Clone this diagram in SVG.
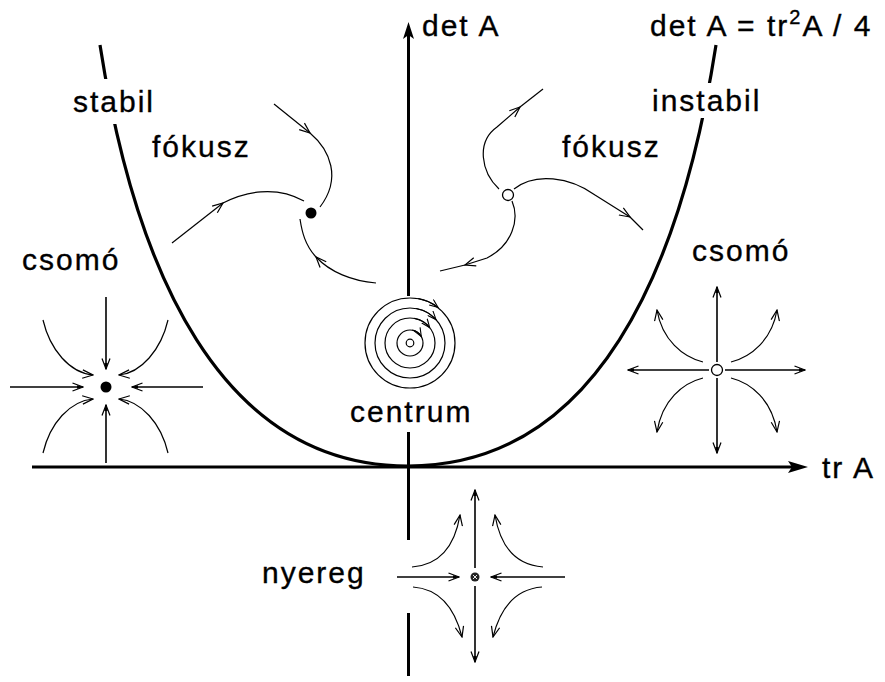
<svg xmlns="http://www.w3.org/2000/svg" width="885" height="682" viewBox="0 0 885 682">
<style>
text{font-family:"Liberation Sans",Arial,sans-serif;font-size:30px;letter-spacing:2px;fill:#000;stroke:#000;stroke-width:0.35}
.ax{stroke:#000;stroke-width:3;fill:none}
.par{stroke:#000;stroke-width:3.2;fill:none}
.s{stroke:#000;stroke-width:1.6;fill:none}
.c{stroke:#000;stroke-width:1.2;fill:none}
</style>
<defs>
<marker id="v" viewBox="0 0 12 10" refX="11" refY="5" markerWidth="12" markerHeight="10" markerUnits="userSpaceOnUse" orient="auto"><path d="M0.5,0.8 L11,5 L0.5,9.2" fill="none" stroke="#000" stroke-width="1.2"/></marker>
<marker id="fv" viewBox="0 0 12 10" refX="11" refY="5" markerWidth="12" markerHeight="10" markerUnits="userSpaceOnUse" orient="auto"><path d="M0.5,1 L11,5 L0.5,9" fill="none" stroke="#000" stroke-width="1.2"/><path d="M5,3.2 L11,5 L5,6.8Z" fill="#000"/></marker>
<marker id="sv" viewBox="0 0 10 8" refX="9" refY="4" markerWidth="10" markerHeight="8" markerUnits="userSpaceOnUse" orient="auto"><path d="M0.5,0.5 L9,4 L0.5,7.5" fill="none" stroke="#000" stroke-width="1.1"/></marker>
</defs>

<g id="connectors">
  <g id="axes">
    <path class="ax" d="M32,467 L795,467"/>
    <path d="M808,467 L788,461 L792,467 L788,473 Z" fill="#000"/>
    <path class="ax" d="M408.5,34 L408.5,296"/>
    <path d="M408.5,22 L403,39 L408.5,35 L414,39 Z" fill="#000"/>
    <path class="ax" d="M408.5,432 L408.5,540"/>
    <path class="ax" d="M408.5,613 L408.5,676"/>
  </g>
  <g id="parabola">
    <path class="par" d="M100,45 C 135,270 220,466 408,466 C 596,466 681,270 716,45"/>
    <rect x="92" y="79" width="34" height="45" fill="#fff"/>
    <rect x="688" y="83" width="32" height="35" fill="#fff"/>
  </g>
</g>

<g id="labels">
  <text x="422" y="36">det A</text>
  <text x="650" y="36">det A = tr<tspan dy="-12" font-size="20">2</tspan><tspan dy="12">A / 4</tspan></text>
  <text x="73" y="112">stabil</text>
  <text x="652" y="111">instabil</text>
  <text x="152" y="157">fókusz</text>
  <text x="562" y="157">fókusz</text>
  <text x="22" y="270">csomó</text>
  <text x="692" y="261">csomó</text>
  <text x="350" y="422">centrum</text>
  <text x="262" y="583">nyereg</text>
  <text x="822" y="478">tr A</text>
</g>

<g id="stable-focus">
  <circle cx="311" cy="213" r="5.5" fill="#000"/>
  <path class="c" d="M172,243 L223,203" marker-end="url(#v)"/>
  <path class="c" d="M223,203 C 245,192 275,185 304,201"/>
  <path class="c" d="M274,104 L310,133" marker-end="url(#v)"/>
  <path class="c" d="M310,133 C 330,150 342,178 320,207"/>
  <path class="c" d="M376,283 C 352,281 330,272 316,257" marker-end="url(#v)"/>
  <path class="c" d="M316,257 C 305,245 302,232 300,219"/>
</g>

<g id="unstable-focus">
  <circle cx="508" cy="195" r="5.5" fill="#fff" stroke="#000" stroke-width="1.3"/>
  <path class="c" d="M499,189 C 481,172 476,142 497,127 L520,107" marker-end="url(#v)"/>
  <path class="c" d="M520,107 L543,89"/>
  <path class="c" d="M514,189 C 535,172 570,177 595,195 L630,217" marker-end="url(#v)"/>
  <path class="c" d="M630,217 L643,230"/>
  <path class="c" d="M512,201 C 520,220 512,245 487,258 L465,265" marker-end="url(#v)"/>
  <path class="c" d="M465,265 L440,271"/>
</g>

<g id="stable-node">
  <circle cx="106" cy="387" r="5.5" fill="#000"/>
  <path class="s" d="M10,387 L83,387" marker-end="url(#fv)"/>
  <path class="s" d="M203,387 L132,387" marker-end="url(#fv)"/>
  <path class="s" d="M106,297 L106,369" marker-end="url(#fv)"/>
  <path class="s" d="M106,463 L106,405" marker-end="url(#fv)"/>
  <path class="c" d="M43,320 C 50,350 70,373 93,375" marker-end="url(#v)"/>
  <path class="c" d="M168,320 C 161,350 141,373 119,375" marker-end="url(#v)"/>
  <path class="c" d="M43,453 C 50,423 70,401 93,399" marker-end="url(#v)"/>
  <path class="c" d="M168,453 C 161,423 141,401 119,399" marker-end="url(#v)"/>
</g>

<g id="unstable-node">
  <circle cx="717" cy="370" r="5.5" fill="#fff" stroke="#000" stroke-width="1.3"/>
  <path class="s" d="M709,370 L628,370" marker-end="url(#fv)"/>
  <path class="s" d="M725,370 L805,370" marker-end="url(#fv)"/>
  <path class="s" d="M717,362 L717,287" marker-end="url(#fv)"/>
  <path class="s" d="M717,378 L717,453" marker-end="url(#fv)"/>
  <path class="c" d="M703,362 C 683,357 662,340 657,310" marker-end="url(#v)"/>
  <path class="c" d="M731,362 C 751,357 772,340 777,310" marker-end="url(#v)"/>
  <path class="c" d="M703,378 C 683,383 662,400 657,432" marker-end="url(#v)"/>
  <path class="c" d="M731,378 C 751,383 772,400 777,432" marker-end="url(#v)"/>
</g>

<g id="center">
  <circle class="c" cx="410" cy="343" r="45"/>
  <circle class="c" cx="410" cy="343" r="35"/>
  <circle class="c" cx="410" cy="343" r="25"/>
  <circle class="c" cx="410" cy="343" r="13"/>
  <circle class="c" cx="410" cy="343" r="3.8"/>
  <path class="c" d="M418.2,298.7 A45,45 0 0 1 438,307.4" marker-end="url(#sv)"/>
  <path class="c" d="M416.1,308.5 A35,35 0 0 1 436,319.6" marker-end="url(#sv)"/>
  <path class="c" d="M414.3,318.4 A25,25 0 0 1 429.7,327.6" marker-end="url(#sv)"/>
  <path class="c" d="M412.3,330.2 A13,13 0 0 1 421.3,336.5" marker-end="url(#sv)"/>
</g>

<g id="saddle">
  <circle cx="475" cy="577" r="4.5" fill="#222"/>
  <path d="M473,575 L477,579 M473,579 L477,575" stroke="#fff" stroke-width="0.9"/>
  <path class="s" d="M397,577 L459,577" marker-end="url(#fv)"/>
  <path class="s" d="M565,577 L491,577" marker-end="url(#fv)"/>
  <path class="s" d="M475,568 L475,490" marker-end="url(#fv)"/>
  <path class="s" d="M475,586 L475,662" marker-end="url(#fv)"/>
  <path class="c" d="M412,567 C 440,565 455,545 460,515" marker-end="url(#v)"/>
  <path class="c" d="M543,567 C 515,565 500,545 495,515" marker-end="url(#v)"/>
  <path class="c" d="M413,587 C 440,589 455,609 462,637" marker-end="url(#v)"/>
  <path class="c" d="M542,587 C 515,589 500,609 493,637" marker-end="url(#v)"/>
</g>
</svg>
